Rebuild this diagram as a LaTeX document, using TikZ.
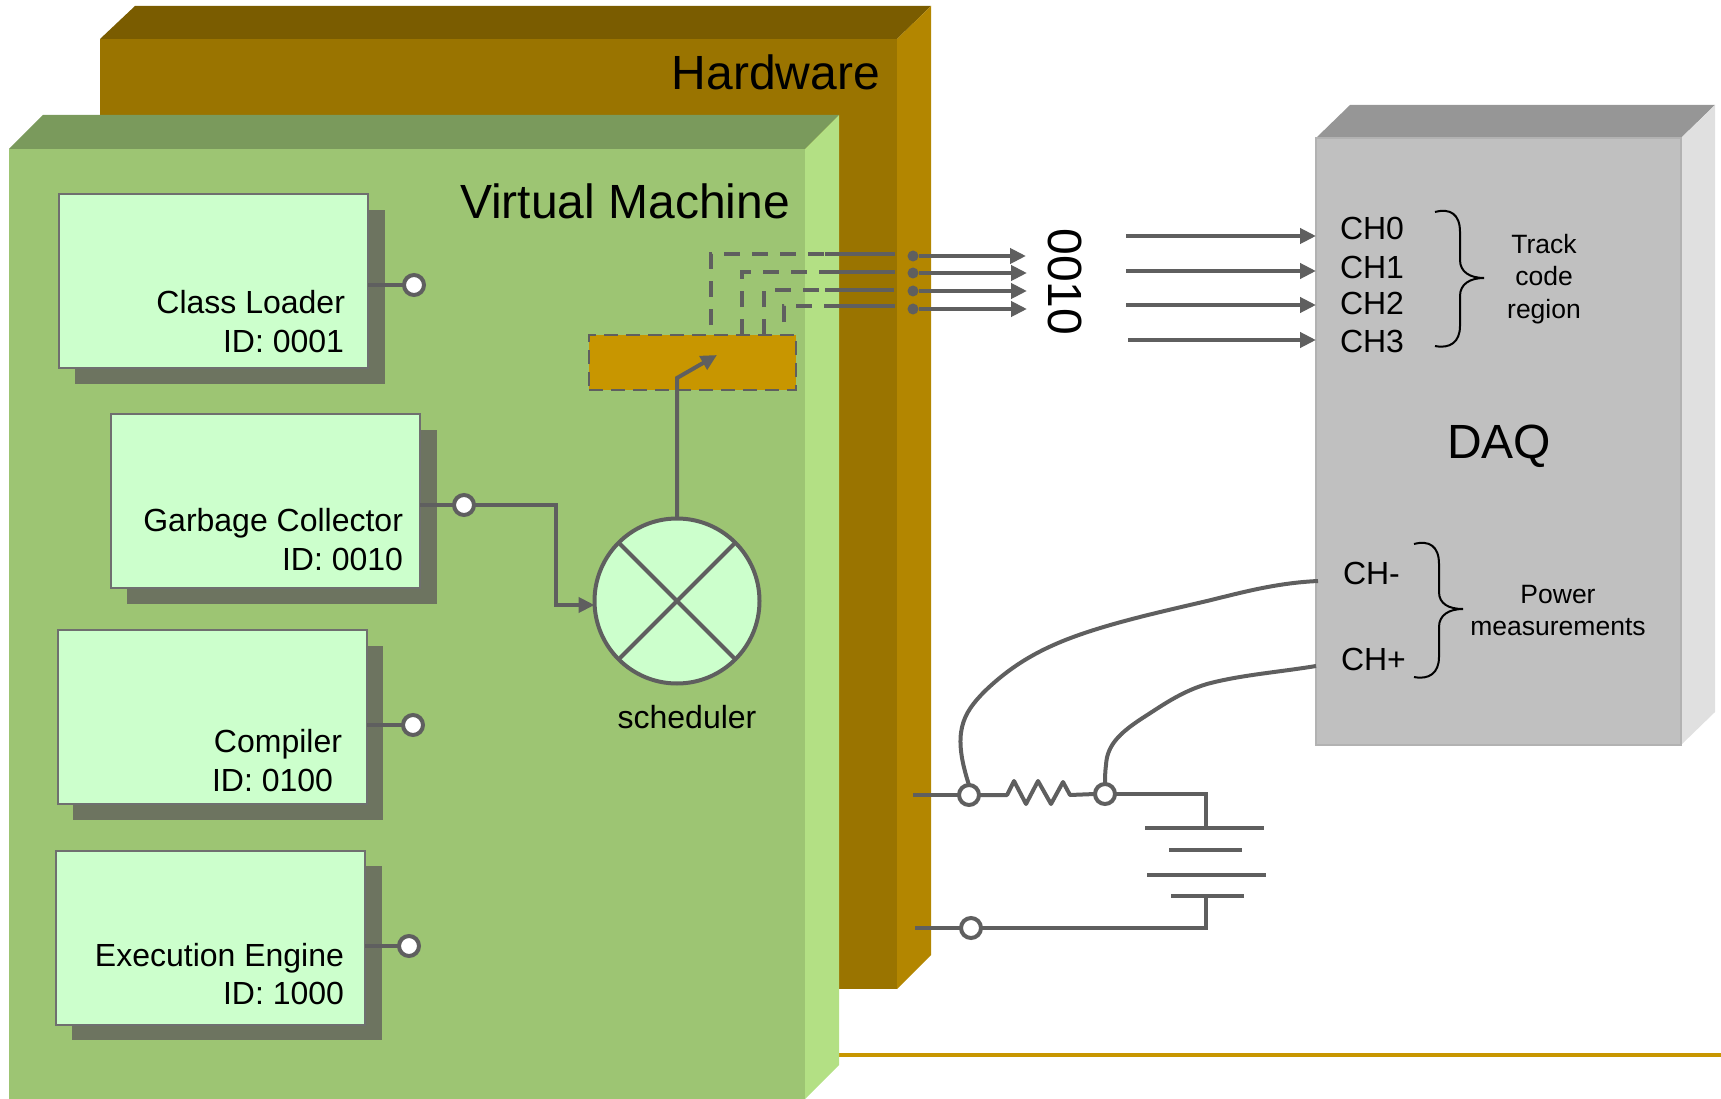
\documentclass[tikz,border=0pt]{standalone}
\usepackage{fontspec}
\setmainfont{Liberation Sans}
\usetikzlibrary{arrows.meta}
\definecolor{wirec}{HTML}{5F5F5F}
\definecolor{hwfront}{HTML}{9A7400}
\definecolor{hwtop}{HTML}{7A5C00}
\definecolor{hwside}{HTML}{B38600}
\definecolor{vmfront}{HTML}{9DC573}
\definecolor{vmtop}{HTML}{7A9A5C}
\definecolor{vmside}{HTML}{B3E084}
\definecolor{boxfill}{HTML}{CCFFCC}
\definecolor{shadowc}{HTML}{6D7460}
\definecolor{orangec}{HTML}{C89600}
\definecolor{daqfront}{HTML}{C0C0C0}
\definecolor{daqtop}{HTML}{969696}
\definecolor{daqside}{HTML}{E0E0E0}
\newcommand{\fs}[1]{\fontsize{#1}{#1}\selectfont}
\tikzset{
  wire/.style={draw=wirec,line width=4pt},
  dashwire/.style={draw=wirec,line width=4pt,dash pattern=on 16pt off 12pt},
  arrowwire/.style={wire,-{Triangle[length=16pt,width=15pt]}},
  compbox/.style={draw=wirec!90,line width=2.5pt,fill=boxfill,minimum width=309pt,minimum height=174pt,anchor=north west,inner sep=0pt,outer sep=0pt},
  shadowbox/.style={fill=shadowc,draw=none,minimum width=310pt,minimum height=174pt,anchor=north west,inner sep=0pt,outer sep=0pt},
  port/.style={circle,draw=wirec,line width=4pt,fill=white,minimum size=20pt,inner sep=0pt,outer sep=0pt},
  lab/.style={inner sep=0pt,outer sep=0pt,font=\fs{32},text=black},
  small/.style={inner sep=0pt,outer sep=0pt,font=\fs{26.5},text=black,anchor=base},
  big/.style={inner sep=0pt,outer sep=0pt,font=\fs{48},text=black},
  dotc/.style={circle,fill=wirec,minimum size=11pt,inner sep=0pt,outer sep=0pt},
}
\begin{document}
\begin{tikzpicture}[x=1pt,y=-1pt]
\useasboundingbox (0,0) rectangle (1721,1099);
% Hardware
\fill[hwtop] (100,39) -- (135,6) -- (931,6) -- (897,39) -- cycle;
\fill[hwside] (897,39) -- (931,6) -- (931,955) -- (897,989) -- cycle;
\fill[hwfront] (100,39) rectangle (897,989);
\node[big,anchor=base east] (hwlab) at (880,90) {Hardware};
% floor line
\draw[draw=orangec,line width=3.5pt] (839,1055) -- (1721,1055);
% Virtual machine
\fill[vmtop] (9,149) -- (43,115) -- (839,115) -- (805,149) -- cycle;
\fill[vmside] (805,149) -- (839,115) -- (839,1065) -- (805,1099) -- cycle;
\fill[vmfront] (9,149) rectangle (805,1099);
\node[big,anchor=base east] (vmlab) at (790,219) {Virtual Machine};
% component boxes
\node[shadowbox] (s1) at (75,210) {};
\node[compbox] (cl) at (59,194) {};
\node[lab,anchor=base east] (cl1) at (345,313) {Class Loader};
\node[lab,anchor=base east] (cl2) at (344,352) {ID: 0001};
\node[shadowbox] (s2) at (127,430) {};
\node[compbox] (gc) at (111,414) {};
\node[lab,anchor=base east] (gc1) at (403,531) {Garbage Collector};
\node[lab,anchor=base east] (gc2) at (403,570) {ID: 0010};
\node[shadowbox] (s3) at (73,646) {};
\node[compbox] (co) at (58,630) {};
\node[lab,anchor=base east] (co1) at (342,752) {Compiler};
\node[lab,anchor=base east] (co2) at (333,791) {ID: 0100};
\node[shadowbox] (s4) at (72,866) {};
\node[compbox] (ex) at (56,851) {};
\node[lab,anchor=base east] (ex1) at (344,966) {Execution Engine};
\node[lab,anchor=base east] (ex2) at (344,1004) {ID: 1000};
% ports
\node[port] (clp) at (414,285) {};
\node[port] (gcp) at (464,505) {};
\node[port] (cop) at (413,725) {};
\node[port] (exp) at (409,946) {};
\draw[wire] (cl.east |- clp) -- (clp);
\draw[wire] (co.east |- cop) -- (cop);
\draw[wire] (ex.east |- exp) -- (exp);
\draw[wire] (gc.east |- gcp) -- (gcp);
% scheduler
\node[circle,draw=wirec,line width=4pt,fill=boxfill,minimum size=165pt,inner sep=0pt,outer sep=0pt] (sch) at (677,601) {};
\draw[wire] (sch.45) -- (sch.225);
\draw[wire] (sch.135) -- (sch.315);
\node[lab,anchor=base] (schlab) at (687,728) {scheduler};
\coordinate (gcb1) at (556,504);
\coordinate (gcb2) at (556,605);
\draw[arrowwire] (gcp) -- (gcp -| gcb1) -- (gcb2) -- (gcb2 -| sch.west);
% register
\node[draw=wirec,line width=2.5pt,dash pattern=on 14pt off 8pt,fill=orangec,minimum width=207pt,minimum height=55pt,anchor=north west,inner sep=0pt,outer sep=0pt] (reg) at (589,335) {};
\coordinate (elbow) at (677,378);
\coordinate (regtip) at (717,355);
\draw[wire,-{Triangle[length=16pt,width=15pt]}] (sch.north) -- (elbow) -- (regtip);
% dashed lines
\coordinate (d1) at (711,325); \coordinate (e1) at (711,254); \coordinate (f1) at (825,254); \coordinate (g1) at (895,254);
\coordinate (d2) at (742,335); \coordinate (e2) at (742,272); \coordinate (f2) at (825,272); \coordinate (g2) at (895,272);
\coordinate (d3) at (764,335); \coordinate (e3) at (764,290); \coordinate (f3) at (825,290); \coordinate (g3) at (894,290);
\coordinate (d4) at (784,322); \coordinate (e4) at (784,306); \coordinate (f4) at (825,306); \coordinate (g4) at (895,306);
\draw[dashwire] (d1) -- (e1) -- (f1); \draw[wire] (f1) -- (g1);
\draw[dashwire] (d2) -- (e2) -- (f2); \draw[wire] (f2) -- (g2);
\draw[dashwire] (d3) -- (e3) -- (f3); \draw[wire] (f3) -- (g3);
\draw[dashwire] (d4) -- (e4) -- (f4); \draw[wire] (f4) -- (g4);
% bit lines
\node[dotc] (b0) at (913,256) {};
\node[dotc] (b1) at (913,273) {};
\node[dotc] (b2) at (913,291) {};
\node[dotc] (b3) at (913,309) {};
\coordinate (bt0) at (1026,256);
\coordinate (bt1) at (1027,273);
\coordinate (bt2) at (1027,291);
\coordinate (bt3) at (1027,309);
\draw[arrowwire] (b0) -- (bt0);
\draw[arrowwire] (b1) -- (bt1);
\draw[arrowwire] (b2) -- (bt2);
\draw[arrowwire] (b3) -- (bt3);
\node[inner sep=0pt,font=\fs{48},rotate=-90] (bits) at (1065,282) {0010};
% DAQ
\fill[daqtop] (1316,138) -- (1350,105) -- (1715,105) -- (1681,138) -- cycle;
\fill[daqside] (1681,138) -- (1715,105) -- (1715,712) -- (1681,745) -- cycle;
\node[fill=daqfront,draw=black!30,line width=1.5pt,minimum width=365pt,minimum height=607pt,anchor=north west,inner sep=0pt,outer sep=0pt] (daq) at (1316,138) {};
\node[big,anchor=center] (daqlab) at (1499,446) {DAQ};
\node[lab,anchor=base west] (ch0) at (1340,240) {CH0};
\node[lab,anchor=base west] (ch1) at (1340,279) {CH1};
\node[lab,anchor=base west] (ch2) at (1340,314) {CH2};
\node[lab,anchor=base west] (ch3) at (1340,352) {CH3};
\node[lab,anchor=base west] (chm) at (1343,584) {CH-};
\node[lab,anchor=base west] (chp) at (1341,670) {CH+};
\coordinate (a0) at (1126,236); \coordinate (a1) at (1126,271); \coordinate (a2) at (1126,305); \coordinate (a3) at (1128,340);
\draw[arrowwire] (a0) -- (a0 -| daq.west);
\draw[arrowwire] (a1) -- (a1 -| daq.west);
\draw[arrowwire] (a2) -- (a2 -| daq.west);
\draw[arrowwire] (a3) -- (a3 -| daq.west);
% braces
\draw[black,line width=2pt] (1435,212) .. controls (1450,208) and (1460,214) .. (1460,232) -- (1460,260) .. controls (1460,272) and (1470,278) .. (1484,278) .. controls (1470,278) and (1460,284) .. (1460,296) -- (1460,326) .. controls (1460,342) and (1450,349) .. (1435,346);
\draw[black,line width=2pt] (1414,544) .. controls (1429,540) and (1439,546) .. (1439,564) -- (1439,592) .. controls (1439,604) and (1449,609) .. (1463,609) .. controls (1449,609) and (1439,615) .. (1439,627) -- (1439,657) .. controls (1439,673) and (1429,680) .. (1414,677);
\node[small] (t1) at (1544,253.5) {Track};
\node[small] (t2) at (1544,286) {code};
\node[small] (t3) at (1544,318) {region};
\node[small] (p1) at (1558,603) {Power};
\node[small] (p2) at (1558,635) {measurements};
% circuit
\node[port] (n1) at (969,795) {};
\node[port] (n2) at (1105,794) {};
\node[port] (n3) at (971,928) {};
\coordinate (l1) at (913,795);
\coordinate (l3) at (915,928);
\draw[wire] (l1) -- (n1);
\draw[wire] (l3) -- (n3);
\coordinate (r0) at (1007,795);
\draw[wire,line join=round] (n1.east) -- (r0) -- (1014,781) -- (1026,804) -- (1038,781) -- (1051,804) -- (1063,782) -- (1070,795) -- (n2.west);
\coordinate (batt) at (1206,794);
\draw[wire] (n2.east) -- (batt) -- (1206,828);
\draw[wire] (1145,828) -- (1264,828);
\draw[wire] (1169,850) -- (1242,850);
\draw[wire] (1147,875) -- (1266,875);
\draw[wire] (1171,896) -- (1244,896);
\coordinate (batb) at (1206,928);
\draw[wire] (1206,896) -- (batb) -- (n3.east);
\draw[wire] (1318,581) .. controls (1275,583) and (1240,593) .. (1207,601) .. controls (1160,612) and (1115,622) .. (1076,636) .. controls (1040,649) and (1012,665) .. (985,691) .. controls (962,714) and (952,733) .. (n1.north);
\draw[wire] (1316,666) .. controls (1280,672) and (1240,675) .. (1207,684) .. controls (1180,692) and (1160,707) .. (1141,719) .. controls (1120,733) and (1107,745) .. (1106,765) .. controls (1105,773) and (1105,778) .. (n2.north);
\end{tikzpicture}
\end{document}
